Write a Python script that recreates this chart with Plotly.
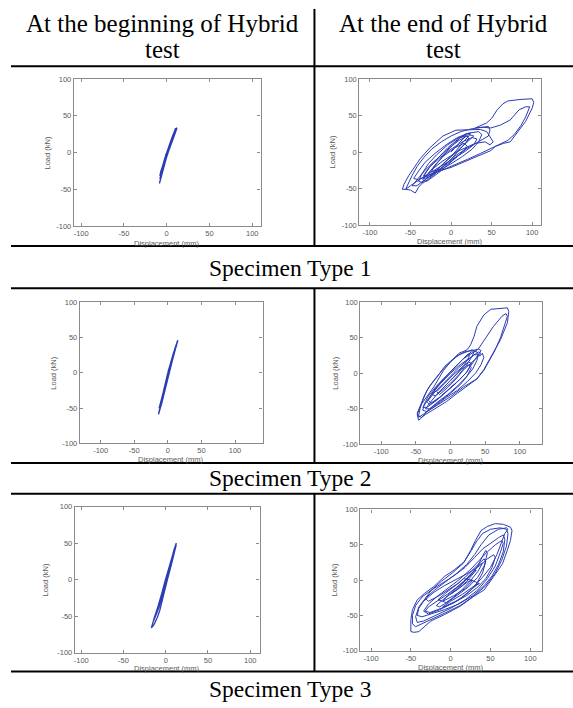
import plotly.graph_objects as go

W, H = 573, 708

# ---------------- data ----------------
tick_vals = [-100, -50, 0, 50, 100]
tick_text = ["-100", "-50", "0", "50", "100"]
col_titles = [["At the beginning of Hybrid", "test"], ["At the end of Hybrid", "test"]]
row_titles = ["Specimen Type 1", "Specimen Type 2", "Specimen Type 3"]
x_title = "Displacement (mm)"
y_title = "Load (kN)"

# (displacement mm, load kN) pairs traced along each record
# Type 1, beginning
p1_pts = [(0, 0), (3, 10), (6, 19), (8, 25), (10, 30), (11, 33), (10, 31), (7, 22), (3, 10), (-1, -3), (-4, -15),
          (-6, -25), (-5, -22), (-2, -10), (2, 4), (6, 17), (9, 26), (11, 32), (12, 34), (10, 30), (6, 18), (2, 6),
          (-2, -8), (-5, -20), (-7, -30), (-8, -36), (-7, -33), (-4, -20), (0, -5), (4, 10), (8, 22), (10, 28),
          (12, 33), (11, 30), (8, 20), (4, 8), (0, -5), (-3, -16), (-6, -29), (-8.5, -42), (-8, -38), (-5, -24),
          (-1, -8), (3, 7), (7, 20), (9, 26), (11, 31), (10, 32), (8, 27), (6, 20), (3, 10), (0, 0), (-4, -14),
          (-7, -26), (-8, -32), (-6, -28), (-2, -12), (3, 6), (7, 20), (10, 28), (11, 33), (9, 28), (5, 14)]

# Type 1, end
p2_pts = [(0, 0), (8, 10), (15, 18), (18, 22), (12, 20), (4, 12), (-6, 0), (-15, -12), (-22, -22), (-24, -27),
          (-18, -25), (-10, -16), (0, -6), (8, 4), (15, 14), (22, 22), (24, 26), (18, 25), (8, 17), (-4, 6),
          (-16, -8), (-26, -20), (-32, -30), (-34, -36), (-28, -35), (-18, -25), (-6, -12), (6, 0), (16, 10),
          (24, 18), (28, 22), (22, 24), (10, 20), (-4, 10), (-18, -4), (-28, -16), (-36, -30), (-40, -40),
          (-34, -42), (-22, -32), (-8, -18), (4, -6), (18, 4), (30, 12), (40, 18), (46, 22), (48, 30), (46, 35),
          (38, 34), (26, 32), (12, 28), (0, 22), (-12, 14), (-24, 4), (-34, -8), (-42, -20), (-48, -32), (-52, -42),
          (-56, -51), (-50, -52), (-44, -56), (-40, -48), (-30, -36), (-18, -28), (0, -20), (20, -10), (36, -2),
          (48, 4), (58, 10), (70, 16), (78, 24), (86, 36), (92, 48), (96, 58), (97, 62), (92, 62), (84, 58),
          (73, 44), (61, 37), (49, 33), (40, 34), (30, 33), (36, 36), (44, 40), (50, 46), (57, 58), (64, 66),
          (70, 70), (85, 72), (100, 73), (102, 68), (100, 60), (92, 42), (80, 25), (73, 14), (65, 12), (55, 8),
          (49, 2), (36, -4), (24, -9), (0, -21), (-21, -28), (-38, -37), (-50, -46), (-56, -51), (-60, -51),
          (-58, -44), (-52, -32), (-46, -22), (-38, -9), (-26, 6), (-10, 22), (6, 30), (24, 30), (36, 31),
          (44, 28), (48, 20), (52, 14), (48, 10), (42, 14), (30, 12), (10, 2), (-10, -12), (-25, -25), (-35, -38),
          (-30, -40), (-15, -28), (0, -14), (12, -2), (20, 8), (16, 12), (5, 6), (-10, -6), (-20, -18), (-28, -30),
          (-24, -32), (-12, -22), (0, -10), (8, 0), (16, 10), (22, 18), (20, 22), (10, 16), (-2, 6), (-14, -6),
          (-26, -18), (-36, -30), (-44, -40), (-48, -46), (-42, -46), (-30, -36), (-16, -26), (0, -16), (14, -6),
          (26, 4), (34, 14), (38, 24), (34, 28), (22, 26), (8, 20), (-6, 10), (-20, -2), (-32, -14), (-40, -26),
          (-46, -36), (-40, -38), (-28, -30), (-14, -20), (2, -10), (16, 0), (28, 10), (32, 18), (26, 20),
          (14, 14), (0, 4), (-14, -8), (-26, -20), (-34, -32), (-30, -34), (-18, -26), (-4, -16), (10, -4), (20, 6)]

# Type 2, beginning
p3_pts = [(0, 0), (4, 15), (8, 27), (11, 35), (13, 41), (15, 46), (13, 42), (9, 30), (5, 17), (1, 4), (-3, -12),
          (-6, -25), (-8, -33), (-6, -28), (-2, -14), (3, 5), (8, 24), (12, 36), (14, 43), (12, 38), (8, 26),
          (3, 10), (-2, -8), (-6, -24), (-9, -38), (-12, -50), (-14, -59), (-13, -56), (-9, -43), (-5, -27),
          (0, -6), (5, 14), (10, 30), (13, 39), (14, 44), (11, 36), (6, 20), (1, 3), (-4, -17), (-8, -32),
          (-11, -45), (-10, -40), (-6, -25), (-1, -5), (4, 15), (9, 30), (12, 38), (14, 44), (12, 40), (8, 26),
          (4, 12), (0, -2), (-5, -20), (-10, -38), (-13, -50), (-11, -48), (-7, -32), (-2, -12), (4, 10), (9, 28),
          (13, 40), (15, 46), (12, 38), (7, 22)]

# Type 2, end
p4_pts = [(0, -10), (10, 0), (20, 12), (26, 22), (28, 28), (24, 26), (14, 16), (2, 4), (-10, -8), (-20, -20),
          (-26, -30), (-22, -32), (-12, -24), (0, -14), (12, -2), (22, 10), (30, 22), (34, 30), (30, 30), (20, 22),
          (8, 10), (-6, -4), (-18, -16), (-28, -30), (-34, -40), (-30, -44), (-18, -36), (-4, -24), (10, -12),
          (22, 0), (32, 14), (40, 26), (44, 32), (40, 34), (30, 28), (18, 20), (6, 8), (-8, -6), (-22, -20),
          (-32, -32), (-38, -44), (-40, -52), (-34, -54), (-22, -46), (-6, -34), (10, -24), (24, -12), (36, 0),
          (44, 12), (48, 22), (46, 28), (42, 24), (38, 30), (31, 33), (22, 30), (12, 26), (0, 16), (-12, 4),
          (-24, -10), (-34, -24), (-40, -38), (-44, -50), (-46, -60), (-42, -62), (-36, -58), (-22, -50),
          (-6, -40), (10, -28), (26, -16), (38, -8), (48, 4), (56, 18), (64, 32), (72, 50), (78, 68), (82, 80),
          (80, 84), (74, 80), (62, 66), (50, 48), (40, 34), (32, 32), (20, 30), (6, 22), (-8, 10), (-20, -6),
          (-30, -18), (-38, -32), (-44, -46), (-48, -58), (-46, -66), (-43, -64), (-34, -54), (-19, -45), (0, -33),
          (19, -19), (38, -8), (48, 5), (53, 14), (62, 28), (72, 47), (82, 71), (84, 87), (82, 92), (70, 91),
          (58, 90), (48, 82), (38, 66), (34, 52), (29, 40), (24, 33), (12, 28), (0, 16), (-10, 4), (-24, -19),
          (-36, -35), (-43, -45), (-48, -56), (-46, -62), (-38, -57), (-30, -50), (-16, -40), (0, -28), (14, -16),
          (24, -4), (30, 8), (26, 12), (16, 6), (4, -6), (-8, -18), (-20, -30), (-30, -42), (-36, -50), (-30, -50),
          (-18, -40), (-4, -30), (10, -18), (22, -6), (32, 6), (38, 18), (40, 26), (34, 26), (24, 18), (12, 8),
          (0, -4), (-12, -16), (-24, -28), (-32, -38), (-28, -42), (-16, -34), (-2, -22), (12, -10), (24, 2),
          (30, 14), (26, 16), (16, 8), (4, -2), (-8, -14), (-20, -26), (-16, -30), (-4, -20), (8, -8), (18, 4),
          (36, 20), (44, 28), (40, 30), (28, 22), (14, 12), (0, 0), (-14, -14), (-26, -28), (-36, -42), (-40, -48),
          (-34, -48), (-20, -38), (-6, -26), (8, -14)]

# Type 3, beginning
p5_pts = [(0, 0), (4, 15), (8, 30), (11, 42), (12.5, 50), (11, 45), (7, 30), (3, 14), (-1, -3), (-4, -16),
          (-7, -28), (-9, -38), (-8, -36), (-5, -24), (-1, -8), (3, 10), (7, 26), (10, 38), (12, 46), (10, 40),
          (6, 25), (2, 8), (-2, -10), (-5, -22), (-9, -38), (-13, -50), (-16, -60), (-17, -66), (-14, -62),
          (-10, -52), (-7, -42), (-4, -28), (0, -10), (4, 10), (8, 28), (11, 40), (12, 47), (9, 36), (5, 20),
          (1, 4), (-3, -12), (-6, -24), (-9, -36), (-8, -33), (-5, -20), (-1, -4), (3, 12), (7, 28), (10, 38),
          (12, 46), (10, 42), (6, 22), (2, 6), (-2, -10), (-6, -26), (-10, -40), (-14, -54), (-15, -58),
          (-12, -50), (-8, -38), (-4, -22), (2, 0), (7, 22), (11, 40), (12.5, 48), (9, 34), (4, 14)]

# Type 3, end
p6_pts = [(0, -20), (10, -12), (20, -2), (28, 8), (32, 14), (28, 12), (18, 0), (6, -12), (-4, -22), (-10, -30),
          (-6, -32), (4, -24), (14, -14), (24, -2), (34, 12), (40, 24), (36, 22), (26, 8), (14, -6), (2, -18),
          (-10, -28), (-18, -36), (-14, -38), (-2, -30), (10, -20), (22, -10), (34, 4), (42, 20), (46, 38),
          (44, 42), (40, 34), (34, 20), (24, 6), (10, -8), (-4, -20), (-18, -30), (-28, -38), (-32, -44),
          (-26, -46), (-12, -40), (4, -32), (20, -22), (34, -10), (44, 2), (52, 18), (56, 32), (54, 36), (46, 30),
          (36, 20), (22, 10), (8, 2), (-8, -8), (-22, -18), (-34, -30), (-40, -40), (-42, -50), (-36, -52),
          (-24, -48), (-8, -42), (10, -34), (28, -22), (42, -8), (52, 6), (60, 22), (66, 40), (68, 58), (66, 64),
          (60, 60), (50, 52), (40, 44), (30, 32), (18, 18), (4, 6), (-10, -4), (-24, -14), (-36, -24), (-44, -36),
          (-48, -50), (-48, -62), (-44, -66), (-36, -62), (-22, -54), (-6, -46), (12, -36), (30, -22), (44, -8),
          (56, 10), (64, 28), (70, 48), (72, 66), (70, 72), (62, 74), (50, 72), (40, 66), (32, 54), (26, 42),
          (17, 26), (4, 14), (-8, 5), (-21, -9), (-33, -19), (-42, -28), (-48, -42), (-50, -56), (-50, -73),
          (-46, -74), (-40, -73), (-37, -70), (-25, -58), (-8, -49), (12, -37), (29, -23), (42, -14), (54, 5),
          (65, 23), (71, 42), (75, 56), (77, 70), (75, 75), (66, 79), (56, 80), (46, 76), (38, 70), (31, 56),
          (25, 42), (16, 24), (2, 10), (-12, -2), (-24, -14), (-32, -26), (-28, -30), (-14, -22), (0, -12),
          (10, -4), (16, 2), (26, 0), (36, -5), (30, -8), (15, -20), (0, -30), (-10, -38), (-5, -36), (10, -28),
          (25, -15), (35, -5), (30, -8), (40, 4), (50, 18), (58, 36), (64, 54), (68, 66), (72, 72), (70, 74),
          (60, 72), (48, 64), (38, 50), (30, 36), (20, 22), (8, 10), (-6, -2), (-20, -14), (-32, -26), (-40, -38),
          (-44, -52), (-42, -60), (-34, -58), (-18, -50), (0, -40), (18, -28), (34, -14), (46, 2), (56, 20),
          (62, 38), (66, 52), (64, 56), (56, 50), (46, 40), (36, 28), (24, 14), (10, 0), (-4, -12), (-18, -24),
          (-28, -34), (-34, -44), (-28, -48), (-14, -42), (4, -32), (20, -20), (32, -6), (40, 10), (44, 26),
          (42, 30), (34, 22), (22, 8), (8, -6), (-6, -18), (-16, -28), (-10, -30), (4, -22), (18, -12), (28, 0),
          (22, -2), (10, -12), (0, -20)]

panels = [p1_pts, p2_pts, p3_pts, p4_pts, p5_pts, p6_pts]

# ---------------- layout (pixel boxes of each axes: left, right, top, bottom) ----------------
boxes = [(73, 260, 76, 225), (359, 541, 76, 224),
         (79, 262, 302, 445), (360, 542, 302, 446),
         (74, 259, 509, 657), (360, 542, 512, 655)]
xranges = [[-108.5, 109.7], [-113, 111], [-131, 141], [-130, 132], [-107.5, 111], [-113.4, 114.7]]
xtitle_off = [18, 17, 16, 16, 16, 17]
ytitle_off = [26, 27, 26, 25, 29, 26]

LINE = "#2b3cb4"
AX = "#8a8a8a"
LBL = "#5a5a5a"


def px(x):
    return x / W


def py(y):
    return 1 - y / H


fig = go.Figure()
annotations = []
for i in range(6):
    l, r, t, b = boxes[i]
    sfx = "" if i == 0 else str(i + 1)
    xs = [p[0] for p in panels[i]]
    ys = [p[1] for p in panels[i]]
    lw = 1.3 if i % 2 == 0 else 1.0
    fig.add_trace(go.Scatter(x=xs, y=ys, mode="lines",
                             line=dict(color=LINE, width=lw), xaxis="x" + sfx, yaxis="y" + sfx,
                             showlegend=False, hoverinfo="skip"))
    common = dict(showline=True, linecolor=AX, linewidth=1.2, mirror="ticks", ticks="inside",
                  ticklen=3, tickcolor=AX, tickwidth=1, showgrid=False, zeroline=False,
                  tickvals=tick_vals, ticktext=tick_text,
                  tickfont=dict(family="Liberation Sans", size=7.5, color=LBL), fixedrange=True)
    fig.update_layout(**{
        "xaxis" + sfx: dict(domain=[px(l), px(r)], range=xranges[i], anchor="y" + sfx, **common),
        "yaxis" + sfx: dict(domain=[py(b), py(t)], range=[-100, 100], anchor="x" + sfx, **common),
    })
    annotations.append(dict(text=x_title, x=px((l + r) / 2), y=py(b + xtitle_off[i]), xref="paper", yref="paper",
                            showarrow=False, xanchor="center", yanchor="middle",
                            font=dict(family="Liberation Sans", size=7.5, color=LBL)))
    annotations.append(dict(text=y_title, x=px(l - ytitle_off[i]), y=py((t + b) / 2), xref="paper", yref="paper",
                            showarrow=False, xanchor="center", yanchor="middle", textangle=-90,
                            font=dict(family="Liberation Sans", size=7.5, color=LBL)))

SERIF = "Liberation Serif"
col_cx = [162, 443.5]
for c in range(2):
    for k, line in enumerate(col_titles[c]):
        annotations.append(dict(text=line, x=px(col_cx[c]), y=py([20, 46][k]), xref="paper", yref="paper",
                                showarrow=False, xanchor="center", yanchor="middle",
                                font=dict(family=SERIF, size=25, color="black")))
row_y = [267, 480, 694]
for k, txt in enumerate(row_titles):
    annotations.append(dict(text=txt, x=px(290), y=py(row_y[k]), xref="paper", yref="paper",
                            showarrow=False, xanchor="center", yanchor="middle",
                            font=dict(family=SERIF, size=23.5, color="black")))

shapes = []
for yy in [63, 245, 288, 465, 496, 676]:
    shapes.append(dict(type="line", xref="paper", yref="paper", x0=px(10), x1=1, y0=py(yy), y1=py(yy),
                       line=dict(color="black", width=2)))
for (y0, y1) in [(5, 245), (288, 465), (496, 676)]:
    shapes.append(dict(type="line", xref="paper", yref="paper", x0=px(314), x1=px(314), y0=py(y0), y1=py(y1),
                       line=dict(color="black", width=2)))

fig.update_layout(width=W, height=H, margin=dict(l=0, r=0, t=0, b=0),
                  paper_bgcolor="white", plot_bgcolor="white",
                  annotations=annotations, shapes=shapes, showlegend=False)

fig.write_html("out.html", config={"displayModeBar": False})
